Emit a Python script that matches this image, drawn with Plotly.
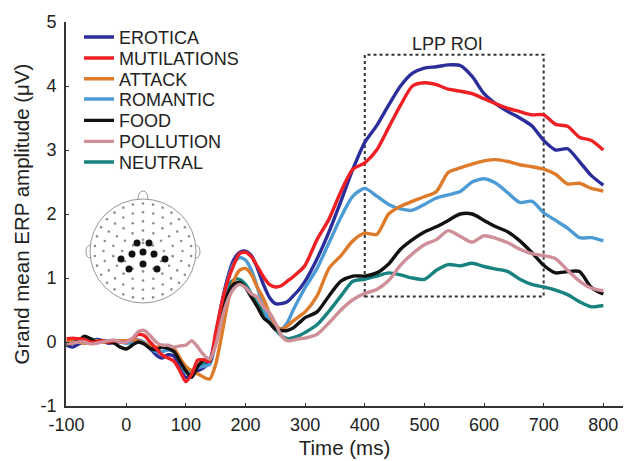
import numpy as np
import plotly.graph_objects as go

# ---------------- data ----------------
time_ms = [-100, -90, -80, -70, -60, -50, -40, -30, -20, -10, 0, 10, 20, 30, 40, 50, 60, 70, 80, 90,
           100, 110, 120, 130, 140, 150, 160, 170, 180, 190, 200, 210, 220, 230, 240, 250, 260, 270, 280, 290,
           300, 320, 340, 360, 380, 400, 420, 440, 460, 480, 500, 520, 540, 560, 580, 600, 620, 640, 660, 680,
           700, 720, 740, 760, 780, 800]

erotica = [-0.05, -0.08, -0.03, 0.0, -0.02, 0.04, 0.02, -0.02, 0.0, 0.02, 0.0, 0.02, 0.03, -0.02, -0.1, -0.2, -0.25, -0.2, -0.22, -0.38,
           -0.56, -0.5, -0.45, -0.4, -0.3, 0.1, 0.6, 1.0, 1.28, 1.4, 1.42, 1.35, 1.15, 0.9, 0.7, 0.6, 0.6, 0.63, 0.72, 0.82,
           0.95, 1.3, 1.72, 2.2, 2.7, 3.12, 3.38, 3.7, 4.0, 4.2, 4.28, 4.3, 4.33, 4.32, 4.15, 3.88, 3.72, 3.6, 3.5, 3.38,
           3.15, 3.0, 3.02, 2.82, 2.6, 2.45]

mutilations = [0.05, 0.06, 0.05, 0.04, 0.0, 0.0, 0.02, 0.0, 0.02, 0.0, 0.0, 0.05, 0.12, 0.1, 0.0, -0.1, -0.2, -0.25, -0.3, -0.45,
               -0.62, -0.5, -0.28, -0.28, -0.3, 0.15, 0.6, 0.95, 1.2, 1.38, 1.4, 1.33, 1.18, 1.02, 0.9, 0.86, 0.88, 0.95, 1.02, 1.1,
               1.2, 1.6, 1.92, 2.35, 2.7, 2.8, 3.0, 3.35, 3.7, 4.0, 4.05, 4.02, 3.95, 3.92, 3.88, 3.8, 3.72, 3.65, 3.6, 3.55,
               3.55, 3.4, 3.37, 3.2, 3.15, 3.0]

attack = [0.0, 0.02, 0.0, -0.02, 0.0, 0.02, 0.0, 0.0, 0.02, 0.02, 0.02, 0.03, 0.02, -0.02, -0.06, -0.08, -0.07, -0.06, -0.1, -0.25,
          -0.38, -0.45, -0.5, -0.55, -0.58, -0.35, 0.1, 0.6, 0.95, 1.12, 1.15, 1.05, 0.85, 0.68, 0.45, 0.27, 0.2, 0.25, 0.33, 0.4,
          0.47, 0.72, 1.15, 1.35, 1.58, 1.7, 1.68, 2.0, 2.12, 2.2, 2.27, 2.35, 2.65, 2.72, 2.78, 2.83, 2.85, 2.82, 2.77, 2.74,
          2.7, 2.62, 2.47, 2.48, 2.4, 2.36]

romantic = [-0.03, -0.02, 0.02, 0.04, 0.02, 0.0, 0.0, 0.02, 0.0, 0.0, -0.02, 0.0, 0.02, 0.0, -0.08, -0.15, -0.15, -0.12, -0.15, -0.3,
            -0.48, -0.45, -0.4, -0.38, -0.35, 0.0, 0.5, 0.95, 1.22, 1.32, 1.28, 1.12, 0.85, 0.55, 0.33, 0.22, 0.2, 0.3, 0.5, 0.68,
            0.85, 1.15, 1.55, 1.95, 2.28, 2.4, 2.28, 2.15, 2.08, 2.06, 2.15, 2.25, 2.3, 2.35, 2.5, 2.55, 2.48, 2.33, 2.18, 2.2,
            2.02, 1.9, 1.78, 1.63, 1.63, 1.58]

food = [-0.05, -0.02, 0.02, 0.09, 0.05, 0.0, 0.02, 0.0, -0.02, -0.08, -0.11, -0.05, 0.0, -0.03, -0.1, -0.12, -0.08, -0.1, -0.15, -0.3,
        -0.45, -0.55, -0.38, -0.28, -0.3, 0.05, 0.45, 0.75, 0.9, 0.93, 0.85, 0.7, 0.55, 0.38, 0.3, 0.2, 0.18, 0.18, 0.22, 0.3,
        0.38, 0.47, 0.72, 0.95, 1.03, 1.03, 1.08, 1.22, 1.45, 1.6, 1.72, 1.8, 1.9, 2.0, 2.0, 1.9, 1.8, 1.72, 1.58, 1.4,
        1.2, 1.08, 1.1, 1.1, 0.85, 0.75]

pollution = [-0.03, -0.02, 0.0, 0.0, -0.03, -0.02, 0.0, 0.02, 0.03, 0.0, 0.0, 0.05, 0.16, 0.18, 0.1, 0.0, -0.05, -0.05, -0.08, -0.06,
             -0.05, 0.02, -0.08, -0.2, -0.27, -0.05, 0.35, 0.65, 0.83, 0.9, 0.85, 0.75, 0.7, 0.55, 0.46, 0.3, 0.1, 0.02, 0.03, 0.05,
             0.06, 0.12, 0.3, 0.5, 0.66, 0.76, 0.82, 0.96, 1.2, 1.38, 1.52, 1.6, 1.74, 1.65, 1.56, 1.66, 1.62, 1.55, 1.45, 1.38,
             1.35, 1.3, 1.12, 0.95, 0.84, 0.8]

neutral = [-0.02, 0.0, 0.03, 0.02, 0.05, 0.02, 0.0, 0.0, 0.0, 0.02, 0.0, -0.02, 0.0, -0.02, -0.08, -0.15, -0.15, -0.12, -0.12, -0.3,
           -0.45, -0.5, -0.4, -0.33, -0.3, 0.05, 0.5, 0.85, 0.97, 0.98, 0.9, 0.75, 0.6, 0.47, 0.35, 0.2, 0.1, 0.05, 0.07, 0.1,
           0.15, 0.27, 0.48, 0.72, 0.95, 0.98, 1.03, 1.08, 1.05, 1.0, 0.98, 1.12, 1.21, 1.19, 1.23, 1.18, 1.14, 1.1, 0.98, 0.9,
           0.86, 0.81, 0.74, 0.63, 0.55, 0.57]

condition_names = ["EROTICA", "MUTILATIONS", "ATTACK", "ROMANTIC", "FOOD", "POLLUTION", "NEUTRAL"]
condition_values = [erotica, mutilations, attack, romantic, food, pollution, neutral]
condition_colors = ["#2B2D9B", "#EE2024", "#DE7B2A", "#4C9BD5", "#111111", "#CF8F98", "#17827F"]

x_ticks = [-100, 0, 100, 200, 300, 400, 500, 600, 700, 800]
x_tick_labels = ["-100", "0", "100", "200", "300", "400", "500", "600", "700", "800"]
y_ticks = [-1, 0, 1, 2, 3, 4, 5]
y_tick_labels = ["-1", "0", "1", "2", "3", "4", "5"]

roi_window = [400, 700]
roi_amplitude = [0.71, 4.49]

# electrode montage for the head inset (inset units ~ px)
roi_electrodes_x = [-6, 6, -11, 0, 11, -22, 22, -14, 0, 14]
roi_electrodes_y = [8, 8, -3, -1, -3, -8, -8, -18, -13, -18]

FONT = "Liberation Sans, Arial, sans-serif"

fig = go.Figure()

# draw order (top-most last)
draw_order = [6, 0, 3, 2, 4, 1, 5]
legend_rows_py = [37.3, 58.3, 79, 99.3, 120.7, 141.7, 162.3]
for i in draw_order:
    lname = "legend" if i == 0 else f"legend{i+1}"
    fig.add_trace(go.Scatter(
        x=time_ms, y=condition_values[i], mode="lines", name=condition_names[i],
        line=dict(color=condition_colors[i], width=3.4, shape="spline", smoothing=0.7),
        legend=lname, hoverinfo="x+y+name",
    ))

# ---- head inset ----
ring_r = [0.93, 0.76, 0.58, 0.40, 0.22]
ring_n = [30, 24, 18, 12, 6]
hx, hy = [], []
for r, n in zip(ring_r, ring_n):
    for k in range(n):
        a = 2 * np.pi * k / n + (np.pi / n if n % 4 else 0)
        hx.append(52 * r * np.cos(a))
        hy.append(51 * r * np.sin(a))
hx.append(0.0)
hy.append(8.0)
fig.add_trace(go.Scatter(x=hx, y=hy, mode="markers", xaxis="x2", yaxis="y2", showlegend=False,
                         marker=dict(size=2.6, color="#8f8f8f"), hoverinfo="skip"))
fig.add_trace(go.Scatter(x=roi_electrodes_x, y=roi_electrodes_y, mode="markers", xaxis="x2", yaxis="y2",
                         showlegend=False, marker=dict(size=7, color="#111111"), hoverinfo="skip"))

shapes = [
    dict(type="rect", xref="x", yref="y", x0=roi_window[0], x1=roi_window[1],
         y0=roi_amplitude[0], y1=roi_amplitude[1], line=dict(color="#333333", width=2, dash="dot"),
         fillcolor="rgba(0,0,0,0)", layer="below"),
    dict(type="circle", xref="x2", yref="y2", x0=-53, x1=53, y0=-52, y1=52,
         line=dict(color="#8a8a8a", width=0.9)),
    dict(type="path", xref="x2", yref="y2", path="M -5,51.6 Q -4.5,60 0,60 Q 4.5,60 5,51.6",
         line=dict(color="#8a8a8a", width=0.9)),
    dict(type="path", xref="x2", yref="y2", path="M -52.8,6 Q -57,5 -57,-1 Q -56.5,-7 -52.8,-7",
         line=dict(color="#8a8a8a", width=0.9)),
    dict(type="path", xref="x2", yref="y2", path="M 52.8,6 Q 57,5 57,-1 Q 56.5,-7 52.8,-7",
         line=dict(color="#8a8a8a", width=0.9)),
]

axis_common = dict(tickmode="array", ticks="inside", ticklen=3.5, tickwidth=1.3, tickcolor="#333333",
                   showline=True, linecolor="#333333", linewidth=1.6, mirror=False, layer="above traces",
                   showgrid=False, zeroline=False, tickfont=dict(size=18))

layout_kw = dict(
    width=627, height=461,
    margin=dict(l=66, r=4, t=22, b=55, autoexpand=False),
    paper_bgcolor="white", plot_bgcolor="white",
    font=dict(family=FONT, size=18, color="#222222"),
    xaxis=dict(range=[-101, 833], tickvals=x_ticks, ticktext=x_tick_labels, ticklabelstandoff=2,
               title=dict(text="Time (ms)", font=dict(size=20.5), standoff=6), **axis_common),
    yaxis=dict(range=[-1, 5], tickvals=y_ticks, ticktext=y_tick_labels, ticklabelstandoff=4,
               title=dict(text="Grand mean ERP amplitude (μV)", font=dict(size=20.5), standoff=5), **axis_common),
    xaxis2=dict(domain=[0.0341, 0.2424], range=[-58, 58], visible=False, anchor="y2", fixedrange=True),
    yaxis2=dict(domain=[0.2552, 0.5677], range=[-57, 63], visible=False, anchor="x2", fixedrange=True),
    shapes=shapes,
    annotations=[dict(text="LPP ROI", xref="x", yref="y", x=538, y=4.66, showarrow=False,
                      font=dict(size=18, color="#222"), xanchor="center", yanchor="middle")],
    showlegend=True,
)

for i, py in enumerate(legend_rows_py):
    lname = "legend" if i == 0 else f"legend{i+1}"
    layout_kw[lname] = dict(x=(79 - 66) / 557, y=(406 - py) / 384, xanchor="left", yanchor="middle",
                            bgcolor="rgba(0,0,0,0)", borderwidth=0, itemwidth=30,
                            font=dict(size=18, family=FONT, color="#222"))

fig.update_layout(**layout_kw)
fig.write_html("out.html", config={"displayModeBar": False},
               post_script="document.body.style.margin='0';document.body.style.padding='0';")
